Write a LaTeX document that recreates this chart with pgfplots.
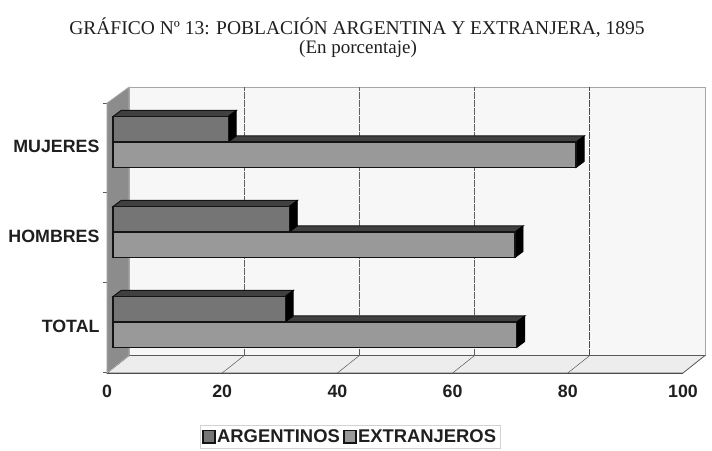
\documentclass[border=0pt]{standalone}
\usepackage{pgfplots}
\pgfplotsset{compat=1.18}
\usepackage{fontspec}
\setmainfont{Liberation Serif}
\setsansfont{Liberation Sans}
\definecolor{txt}{gray}{0.12}
\definecolor{wall}{gray}{0.97}
\definecolor{sidewall}{gray}{0.55}
\definecolor{arg}{gray}{0.46}
\definecolor{ext}{gray}{0.60}
\definecolor{topface}{gray}{0.25}
\definecolor{edge}{gray}{0.08}

% depth of the bars: 1.39 x units, 0.0667 y units
\newcommand{\topside}[2]{% y of the bar's top, value
  \addplot[fill=topface, draw=edge, line width=1pt, forget plot] coordinates
    {(0,#1) (1.39,{#1+.0667}) ({#2+1.39},{#1+.0667}) (#2,#1)} -- cycle;
  \addplot[fill=black, draw=black, line width=0.8pt, forget plot] coordinates
    {(#2,#1) ({#2+1.39},{#1+.0667}) ({#2+1.39},{#1-.2166}) (#2,{#1-.2833})} -- cycle;
}

\begin{document}
\begin{tikzpicture}
\useasboundingbox (0pt,0pt) rectangle (712pt,450pt);
\node[font=\fontsize{19.5}{22}\selectfont, text=txt] at (357pt,422pt) {GRÁFICO Nº 13: POBLACIÓN ARGENTINA Y EXTRANJERA, 1895};
\node[font=\fontsize{19}{22}\selectfont, text=txt] at (358pt,401pt) {(En porcentaje)};

% walls, floor, grid and the tick labels
\begin{axis}[
    name=walls,
    at={(107pt,77pt)}, anchor=south west,
    scale only axis, width=598pt, height=286pt,
    xmin=0, xmax=103.82, ymin=0, ymax=286,
    axis line style={draw=none},
    clip=false,
    tick pos=left,
    tick align=outside,
    major tick length=0pt,
    minor tick length=4pt,
    xtick={0,20,40,60,80,100},
    xticklabels={0,20,40,60,80,100},
    ytick={47,137,227},
    yticklabels={TOTAL,HOMBRES,MUJERES},
    minor ytick={1,91,181,270},
    tick style={draw=gray!70!black},
    tick label style={font=\fontsize{17.8}{20}\selectfont\sffamily\bfseries, text=txt},
    xticklabel style={yshift=-9pt},
    yticklabel style={xshift=-4pt},
]
\addplot[fill=wall, draw=gray!70, line width=0.8pt] coordinates {(3.82,17.5) (103.82,17.5) (103.82,286) (3.82,286)} -- cycle;
\addplot[fill=wall!96!black, draw=gray!70!black, line width=0.8pt] coordinates {(0,0) (3.82,17.5) (103.82,17.5) (100,0)} -- cycle;
\addplot[fill=sidewall, draw=gray!60, line width=0.6pt] coordinates {(0,0) (3.82,17.5) (3.82,286) (0,270)} -- cycle;
\addplot[gray!75!black, dash pattern=on 7pt off 1pt] coordinates {(23.82,17.5) (23.82,286)};
\addplot[gray!75!black, dash pattern=on 7pt off 1pt] coordinates {(43.82,17.5) (43.82,286)};
\addplot[gray!75!black, dash pattern=on 7pt off 1pt] coordinates {(63.82,17.5) (63.82,286)};
\addplot[gray!60!black, dash pattern=on 7pt off 1pt, line width=0.8pt] coordinates {(83.82,17.5) (83.82,286)};
\addplot[gray!70!black, line width=0.5pt] coordinates {(20,0) (23.82,17.5)};
\addplot[gray!70!black, line width=0.5pt] coordinates {(40,0) (43.82,17.5)};
\addplot[gray!70!black, line width=0.5pt] coordinates {(60,0) (63.82,17.5)};
\addplot[gray!70!black, line width=0.5pt] coordinates {(80,0) (83.82,17.5)};
\addplot[gray!60!black, line width=0.9pt] coordinates {(0,0) (100,0)};
\end{axis}

% the bars: x=0 stands at the bars' own left end
\begin{axis}[
    at={(113pt,76pt)}, anchor=south west,
    scale only axis, width=593.28pt, height=287pt,
    xmin=0, xmax=103, ymin=0.4222, ymax=3.6111,
    axis line style={draw=none},
    ticks=none,
    clip=false,
    legend columns=2,
    legend style={
        at={(rel axis cs:0.3995,-0.2195)}, anchor=center,
        draw=gray!35, fill=white, inner sep=2.5pt,
        font=\fontsize{18.4}{20}\selectfont\sffamily\bfseries, text=txt,
        /tikz/every even column/.append style={column sep=2pt},
        nodes={inner xsep=1.5pt},
    },
    legend image code/.code={\draw[#1, draw=edge, line width=1.2pt] (0pt,-6pt) rectangle (12pt,6.5pt);},
]
\topside{3}{80.4}
\topside{2}{69.8}
\topside{1}{70.1}
\topside{3.2833}{20.0}
\topside{2.2833}{30.6}
\topside{1.2833}{29.9}

\addplot[xbar, bar width=25.5pt, bar shift=12.75pt, fill=arg, draw=edge, line width=1.3pt]
    coordinates {(29.9,1) (30.6,2) (20.0,3)};
\addlegendentry{ARGENTINOS}
\addplot[xbar, bar width=25.5pt, bar shift=-12.75pt, fill=ext, draw=edge, line width=1.3pt]
    coordinates {(70.1,1) (69.8,2) (80.4,3)};
\addlegendentry{EXTRANJEROS}
\end{axis}
\end{tikzpicture}
\end{document}
